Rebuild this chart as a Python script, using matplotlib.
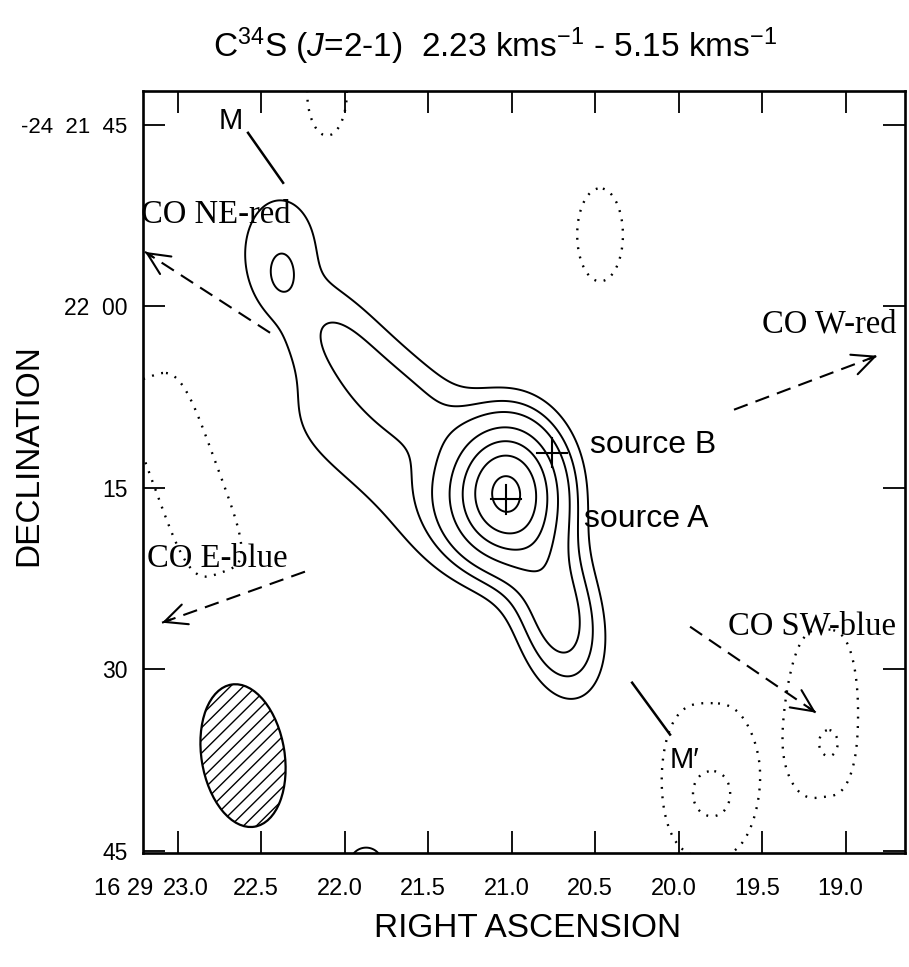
import numpy as np
import matplotlib
matplotlib.use('Agg')
import matplotlib.pyplot as plt
from matplotlib.patches import Ellipse
from matplotlib.transforms import Affine2D

plt.rcParams['font.family'] = ['Liberation Sans', 'DejaVu Sans']
plt.rcParams['mathtext.fontset'] = 'custom'
plt.rcParams['mathtext.rm'] = 'Liberation Sans'
plt.rcParams['mathtext.it'] = 'Liberation Sans:italic'

# RA in seconds past 16h29m, Dec in arcsec past -24d21m (1950)
SEC_TO_ARCSEC = 15.0 * np.cos(np.radians(24.37))

# C34S integrated emission, built from smooth components:
# centre (ra, dec), major / minor widths ["], PA of major axis [deg, west toward south],
# peak, and profile exponents along major / minor (2 = gaussian, 4 = flat-topped)
comp_ra    = [21.027, 20.722, 22.386, 22.374, 21.787, 21.775, 21.871]
comp_dec   = [75.33,  85.50,  55.50,  57.56,  65.17,  73.02,  106.07]
comp_major = [4.12,   4.77,   5.60,   1.81,   6.58,   9.05,   1.30]
comp_minor = [3.13,   2.47,   3.70,   1.15,   2.63,   4.12,   1.30]
comp_pa    = [90,     78,     90,     90,     42,     42,     0]
comp_peak  = [1.0,    0.36,   0.16,   0.07,   0.17,   0.15,   0.20]
comp_pow_major = [2, 2, 2, 2, 4, 4, 2]
comp_pow_minor = [2, 2, 2, 2, 2, 2, 2]

# negative features
neg_ra    = [22.105, 20.470, 22.955, 19.817, 19.799, 19.123, 19.099]
neg_dec   = [42.27,  54.09,  73.93,  99.13,  100.54, 93.60,  96.32]
neg_major = [4.77,   5.76,   10.53,  7.57,   1.65,   8.23,   1.15]
neg_minor = [2.14,   2.80,   3.30,   4.36,   1.32,   3.05,   0.82]
neg_pa    = [90,     90,     70,     90,     90,     90,     90]
neg_peak  = [-0.16, -0.15,  -0.15,  -0.17,  -0.07,  -0.17,  -0.06]
neg_pow_major = [2, 2, 4, 2, 2, 2, 2]
neg_pow_minor = [2, 2, 4, 3, 2, 3, 2]

pos_levels = [0.12, 0.20, 0.29, 0.45, 0.62, 0.80, 1.0]
neg_levels = [-0.20, -0.12]

# outflow arrows
outflow_names = ['CO NE-red', 'CO W-red', 'CO E-blue', 'CO SW-blue']
outflow_start = [(22.446, 62.19), (19.668, 68.55), (22.237, 81.94), (19.931, 86.49)]
outflow_tip   = [(23.195, 55.50), (18.811, 64.09), (23.093, 86.16), (19.177, 93.60)]
outflow_label = [(23.219, 53.10), (19.500, 62.19), (23.183, 81.53), (19.704, 87.15)]

source_names = ['source B', 'source A']
source_pos   = [(20.76, 72.1), (21.033, 75.95)]
source_label = [(20.530, 72.11), (20.566, 78.22)]

beam_ra, beam_dec = 22.608, 97.15
beam_major, beam_minor, beam_pa = 11.9, 6.8, 81.0

xticks = [23.0, 22.5, 22.0, 21.5, 21.0, 20.5, 20.0, 19.5, 19.0]
xtick_labels = ['23.0', '22.5', '22.0', '21.5', '21.0', '20.5', '20.0', '19.5', '19.0']
yticks = [45, 60, 75, 90, 105]
ytick_labels = ['-24  21  45', '22  00', '15', '30', '45']
ytick_sizes = [16, 16.5, 16.5, 16.5, 16.5]


def component_map(RA, DEC, ras, decs, majs, mins, pas, peaks, pmaj, pmin):
    f = np.zeros_like(RA)
    for r0, d0, a, b, pa, amp, ka, kb in zip(ras, decs, majs, mins, pas, peaks, pmaj, pmin):
        u = (r0 - RA) * SEC_TO_ARCSEC
        v = DEC - d0
        t = np.radians(pa)
        p = u * np.cos(t) + v * np.sin(t)
        q = -u * np.sin(t) + v * np.cos(t)
        f += amp * np.exp(-0.5 * (np.abs(p / a) ** ka + np.abs(q / b) ** kb))
    return f


ra = np.linspace(18.3, 23.6, 700)
dec = np.linspace(38, 112, 700)
RA, DEC = np.meshgrid(ra, dec)
pos_map = component_map(RA, DEC, comp_ra, comp_dec, comp_major, comp_minor, comp_pa,
                        comp_peak, comp_pow_major, comp_pow_minor)
neg_map = component_map(RA, DEC, neg_ra, neg_dec, neg_major, neg_minor, neg_pa,
                        neg_peak, neg_pow_major, neg_pow_minor)

fig = plt.figure(figsize=(9.09, 9.67), dpi=100)
ax = fig.add_axes([0.1573, 0.1179, 0.8383, 0.788])
ax.set_xlim(23.207, 18.644)
ax.set_ylim(105.2, 42.2)

ax.contour(RA, DEC, pos_map, levels=pos_levels, colors='k', linewidths=1.4)
cs = ax.contour(RA, DEC, neg_map, levels=neg_levels, colors='k', linewidths=1.7)
cs.set_linestyle((0, (0.8, 3.2)))

# beam
beam_tr = Affine2D().scale(-1.0 / SEC_TO_ARCSEC, 1.0).translate(beam_ra, beam_dec) + ax.transData
beam = Ellipse((0, 0), width=beam_major, height=beam_minor, angle=beam_pa,
               transform=beam_tr, fill=False, lw=1.6, ec='k')
ax.add_patch(beam)
for c in np.arange(-12.0, 12.0, 1.05):
    u = np.array([-10.0, 10.0])
    ln, = ax.plot(u, c - u, color='k', lw=1.0, transform=beam_tr)
    ln.set_clip_path(beam)

# outflow directions
for (s_ra, s_dec), (t_ra, t_dec) in zip(outflow_start, outflow_tip):
    ax.plot([s_ra, t_ra], [s_dec, t_dec], color='k', lw=1.5, ls=(0, (7, 4)))
    back = (t_ra - 0.06 * (t_ra - s_ra), t_dec - 0.06 * (t_dec - s_dec))
    ax.annotate('', xy=(t_ra, t_dec), xytext=back,
                arrowprops=dict(arrowstyle='->,head_length=1.6,head_width=0.75',
                                lw=1.5, color='k', shrinkA=0, shrinkB=0))
for name, (l_ra, l_dec) in zip(outflow_names, outflow_label):
    ax.text(l_ra, l_dec, name, family='Liberation Serif', fontsize=23.5,
            ha='left', va='baseline', clip_on=False)

# continuum sources
for (s_ra, s_dec) in source_pos:
    ax.plot([s_ra + 0.09, s_ra - 0.09], [s_dec, s_dec], color='k', lw=1.5)
    ax.plot([s_ra, s_ra], [s_dec - 1.2, s_dec + 1.2], color='k', lw=1.5)
for name, (l_ra, l_dec) in zip(source_names, source_label):
    ax.text(l_ra, l_dec, name, fontsize=23, ha='left', va='baseline')

# dense core markers M and M'
ax.plot([22.578, 22.368], [45.66, 49.79], color='k', lw=1.8)
ax.text(22.680, 44.67, 'M', fontsize=21, ha='center', va='center')
ax.plot([20.278, 20.051], [91.12, 95.41], color='k', lw=1.8)
ax.text(19.967, 97.48, 'M\u2032', fontsize=21, ha='center', va='center')

ax.set_xticks(xticks)
ax.set_xticklabels([])
ax.set_yticks(yticks)
ax.set_yticklabels(ytick_labels)
ax.tick_params(direction='in', length=16, width=1.3, top=True, right=True)
ax.tick_params(axis='y', pad=11)
for lbl, size in zip(ax.get_yticklabels(), ytick_sizes):
    lbl.set_fontsize(size)
for i, (t, lab) in enumerate(zip(xticks, xtick_labels)):
    dx = 6 if i == 0 else -3.6
    ax.annotate(lab, xy=(t, 0), xycoords=('data', 'axes fraction'), xytext=(dx, -18),
                textcoords='offset points', ha='center', va='top', fontsize=17)
ax.annotate('16 29', xy=(xticks[0], 0), xycoords=('data', 'axes fraction'),
            xytext=(-17.6, -18), textcoords='offset points', ha='right', va='top', fontsize=17)
for sp in ax.spines.values():
    sp.set_linewidth(1.9)

fig.text(0.5446, 0.941, r'C$^{34}$S ($J$=2-1)  2.23 kms$^{-1}$ - 5.15 kms$^{-1}$',
         ha='center', va='baseline', fontsize=24)
fig.text(0.0319, 0.5295, 'DECLINATION', rotation=90, ha='center', va='center', fontsize=24)
fig.text(0.58, 0.0403, 'RIGHT ASCENSION', ha='center', va='center', fontsize=24)

fig.savefig('out.png', dpi=100)
